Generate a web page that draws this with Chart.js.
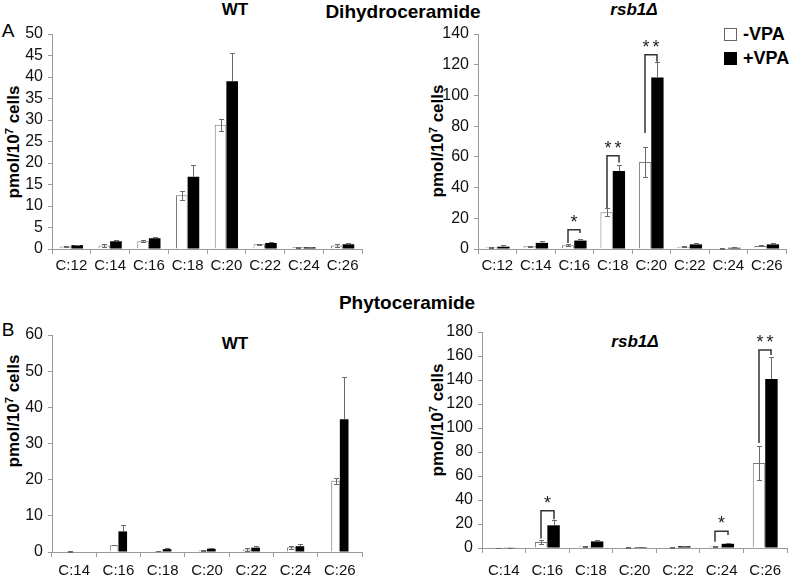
<!DOCTYPE html>
<html>
<head>
<meta charset="utf-8">
<script src="https://cdn.jsdelivr.net/npm/chart.js@4.4.1/dist/chart.umd.min.js"></script>
<style>
body { margin: 0; background: #fff; width: 800px; height: 575px; position: relative; overflow: hidden;
  font-family: "Liberation Sans", Arial, "DejaVu Sans", sans-serif; }
.box { position: absolute; }
.t { position: absolute; font-weight: bold; white-space: nowrap; transform: translate(-50%, -50%); color: #000; }
.yt { position: absolute; font-weight: bold; font-size: 17px; white-space: nowrap; color: #000;
  transform: translate(-50%, -50%) rotate(-90deg); }
.yt sup { font-size: 11px; vertical-align: 6px; line-height: 0; }
.lg { position: absolute; font-weight: bold; font-size: 18px; white-space: nowrap; }
.sw { display: inline-block; width: 11px; height: 11px; margin-right: 6px; vertical-align: -1px; }
</style>
</head>
<body>
<div class="t" style="left:235px;top:10px;font-size:17px">WT</div>
<div class="t" style="left:403px;top:12px;font-size:19px">Dihydroceramide</div>
<div class="t" style="left:634px;top:10px;font-size:17px;font-style:italic">rsb1Δ</div>
<div class="t" style="left:8px;top:31px;font-size:19px;font-weight:normal">A</div>
<div class="t" style="left:407px;top:303px;font-size:19px">Phytoceramide</div>
<div class="t" style="left:8px;top:330px;font-size:19px;font-weight:normal">B</div>
<div class="t" style="left:235px;top:344px;font-size:17px">WT</div>
<div class="t" style="left:635px;top:342px;font-size:17px;font-style:italic">rsb1Δ</div>
<div class="lg" style="left:724px;top:24px"><span class="sw" style="border:1px solid #666;background:#fff"></span>-VPA</div>
<div class="lg" style="left:724px;top:48px"><span class="sw" style="border:1px solid #000;background:#000"></span>+VPA</div>

<div class="yt" style="left:14px;top:142px">pmol/10<sup>7</sup> cells</div>
<div class="yt" style="left:438px;top:141px">pmol/10<sup>7</sup> cells</div>
<div class="yt" style="left:14px;top:411px">pmol/10<sup>7</sup> cells</div>
<div class="yt" style="left:438px;top:420px">pmol/10<sup>7</sup> cells</div>

<div class="box" style="left:0;top:0;width:400px;height:290px"><canvas id="dihWT"></canvas></div>
<div class="box" style="left:400px;top:0;width:400px;height:290px"><canvas id="dihRsb"></canvas></div>
<div class="box" style="left:0;top:290px;width:400px;height:285px"><canvas id="phyWT"></canvas></div>
<div class="box" style="left:400px;top:290px;width:400px;height:285px"><canvas id="phyRsb"></canvas></div>

<script>
// categories
const dihCats = ['C:12', 'C:14', 'C:16', 'C:18', 'C:20', 'C:22', 'C:24', 'C:26'];
const phyCats = ['C:14', 'C:16', 'C:18', 'C:20', 'C:22', 'C:24', 'C:26'];

// A - dihydroceramide, WT
const wtDihMinus = [0.6, 0.8, 1.8, 12.5, 28.9, 1.1, 0.4, 0.8];
const wtDihPlus = [0.9, 1.8, 2.5, 16.8, 39.0, 1.4, 0.4, 1.1];
const wtDihMinusErr = [0.1, 0.4, 0.2, 1.1, 1.4, 0.1, 0.1, 0.3];
const wtDihPlusErr = [0.1, 0.3, 0.3, 2.8, 6.6, 0.2, 0.1, 0.3];

// A - dihydroceramide, rsb1
const rsbDihMinus = [1.0, 1.8, 2.5, 24.0, 56.6, 1.5, 0.5, 2.0];
const rsbDihPlus = [1.5, 4.0, 5.5, 50.8, 111.6, 3.0, 0.8, 3.0];
const rsbDihMinusErr = [0.3, 0.4, 0.8, 2.5, 9.5, 0.5, 0.2, 0.3];
const rsbDihPlusErr = [0.8, 1.0, 1.0, 3.7, 10.4, 0.6, 0.2, 0.6];

// B - phytoceramide, WT
const wtPhyMinus = [0.2, 1.9, 0.3, 0.5, 0.7, 1.3, 19.7];
const wtPhyPlus = [0.0, 5.7, 0.8, 0.9, 1.2, 1.6, 36.7];
const wtPhyMinusErr = [0.1, 0.1, 0.1, 0.1, 0.4, 0.4, 0.8];
const wtPhyPlusErr = [0, 1.7, 0.3, 0.2, 0.4, 0.6, 11.6];

// B - phytoceramide, rsb1
const rsbPhyMinus = [0.3, 5.0, 1.2, 0.4, 0.4, 1.2, 70.8];
const rsbPhyPlus = [0.3, 18.9, 5.5, 0.8, 1.5, 3.5, 140.8];
const rsbPhyMinusErr = [0.1, 2.0, 0.4, 0.1, 0.1, 0.3, 14.2];
const rsbPhyPlusErr = [0.1, 4.7, 1.2, 0.2, 0.3, 0.4, 18.4];

// significance brackets (category index, stars, bracket top, left foot, right foot)
const rsbDihSigIdx = [2, 3, 4];
const rsbDihSigStars = ['*', '**', '**'];
const rsbDihSigTop = [12.6, 60.8, 126.5];
const rsbDihSigLeft = [3.9, 26.7, 75.5];
const rsbDihSigRight = [10.4, 56.4, 122];

const rsbPhySigIdx = [1, 5, 6];
const rsbPhySigStars = ['*', '*', '**'];
const rsbPhySigTop = [31, 14, 165];
const rsbPhySigLeft = [8, 5.3, 87.5];
const rsbPhySigRight = [24, 10.8, 160.8];

const fontFam = '"Liberation Sans", Arial, "DejaVu Sans", sans-serif';

const decor = {
	id: 'decor',
	afterDatasetsDraw(chart, args, opts) {
		const ctx = chart.ctx;
		const y = chart.scales.y;
		ctx.save();
		ctx.strokeStyle = '#6a6a6a';
		ctx.lineWidth = 1;
		opts.err.forEach(function(errs, d) {
			const meta = chart.getDatasetMeta(d);
			const vals = chart.data.datasets[d].data;
			meta.data.forEach(function(bar, i) {
				const e = errs[i];
				if (!e) return;
				const x = Math.round(bar.x) + 0.5;
				const top = Math.round(y.getPixelForValue(vals[i] + e)) + 0.5;
				const bot = d === 0 ? Math.round(y.getPixelForValue(Math.max(vals[i] - e, 0))) + 0.5 : bar.y;
				ctx.beginPath();
				ctx.moveTo(x, bot);
				ctx.lineTo(x, top);
				ctx.moveTo(x - 2.5, top);
				ctx.lineTo(x + 2.5, top);
				if (d === 0) {
					ctx.moveTo(x - 2.5, bot);
					ctx.lineTo(x + 2.5, bot);
				}
				ctx.stroke();
			});
		});

		if (opts.sig) {
			const s = opts.sig;
			const m0 = chart.getDatasetMeta(0), m1 = chart.getDatasetMeta(1);
			ctx.strokeStyle = '#333';
			ctx.lineWidth = 1.5;
			ctx.fillStyle = '#222';
			ctx.font = '18px ' + fontFam;
			ctx.textAlign = 'center';
			ctx.textBaseline = 'middle';
			s.idx.forEach(function(i, k) {
				const x0 = Math.round(m0.data[i].x), x1 = Math.round(m1.data[i].x);
				const top = y.getPixelForValue(s.top[k]);
				ctx.beginPath();
				ctx.moveTo(x0, y.getPixelForValue(s.left[k]));
				ctx.lineTo(x0, top);
				ctx.lineTo(x1, top);
				ctx.lineTo(x1, y.getPixelForValue(s.right[k]));
				ctx.stroke();
				const n = s.stars[k].length;
				for (let j = 0; j < n; j++) {
					ctx.fillText('*', (x0 + x1) / 2 + (j - (n - 1) / 2) * 10, top - 7);
				}
			});
		}
		ctx.restore();
	}
};

function makeChart(id, cats, minus, plus, minusErr, plusErr, yMax, step, geom, sig) {
	const axisColor = '#9a9a9a';
	const config = {
		type: 'bar',
		data: {
			labels: cats,
			datasets: [
				{ label: '-VPA', data: minus, backgroundColor: '#fff', borderColor: '#7a7a7a', borderWidth: 1 },
				{ label: '+VPA', data: plus, backgroundColor: '#000', borderWidth: 0 }
			]
		},
		options: {
			responsive: true,
			maintainAspectRatio: false,
			animation: false,
			layout: { padding: { top: geom.padTop, right: geom.padRight, left: 0, bottom: 0 } },
			datasets: { bar: { categoryPercentage: geom.catPct, barPercentage: 1.0 } },
			plugins: {
				legend: { display: false },
				tooltip: { enabled: false },
				decor: { err: [minusErr, plusErr], sig: sig }
			},
			scales: {
				x: {
					grid: { offset: true, drawOnChartArea: false, color: axisColor, tickLength: 5 },
					border: { color: axisColor },
					ticks: { color: '#111', font: { family: fontFam, size: 15 }, padding: geom.xPad, maxRotation: 0, autoSkip: false },
					afterFit: function(scale) { scale.height = geom.xHeight; }
				},
				y: {
					min: 0,
					max: yMax,
					grid: { drawOnChartArea: false, color: axisColor, tickLength: 4 },
					border: { color: axisColor },
					ticks: { stepSize: step, autoSkip: false, color: '#111', font: { family: fontFam, size: 16 }, padding: 5 },
					afterFit: function(scale) { scale.width = geom.yWidth; }
				}
			}
		},
		plugins: [decor]
	};
	return new Chart(document.getElementById(id), config);
}

makeChart('dihWT', dihCats, wtDihMinus, wtDihPlus, wtDihMinusErr, wtDihPlusErr, 50, 5,
	{ yWidth: 52, padTop: 34, padRight: 38, xHeight: 41, xPad: 3, catPct: 0.6 }, null);

makeChart('dihRsb', dihCats, rsbDihMinus, rsbDihPlus, rsbDihMinusErr, rsbDihPlusErr, 140, 20,
	{ yWidth: 78, padTop: 34, padRight: 14, xHeight: 41, xPad: 3, catPct: 0.64 },
	{ idx: rsbDihSigIdx, stars: rsbDihSigStars, top: rsbDihSigTop, left: rsbDihSigLeft, right: rsbDihSigRight });

makeChart('phyWT', phyCats, wtPhyMinus, wtPhyPlus, wtPhyMinusErr, wtPhyPlusErr, 60, 10,
	{ yWidth: 52, padTop: 45, padRight: 38, xHeight: 23, xPad: 5, catPct: 0.39 }, null);

makeChart('phyRsb', phyCats, rsbPhyMinus, rsbPhyPlus, rsbPhyMinusErr, rsbPhyPlusErr, 180, 20,
	{ yWidth: 82, padTop: 42, padRight: 13, xHeight: 27, xPad: 9, catPct: 0.57 },
	{ idx: rsbPhySigIdx, stars: rsbPhySigStars, top: rsbPhySigTop, left: rsbPhySigLeft, right: rsbPhySigRight });
</script>
</body>
</html>
